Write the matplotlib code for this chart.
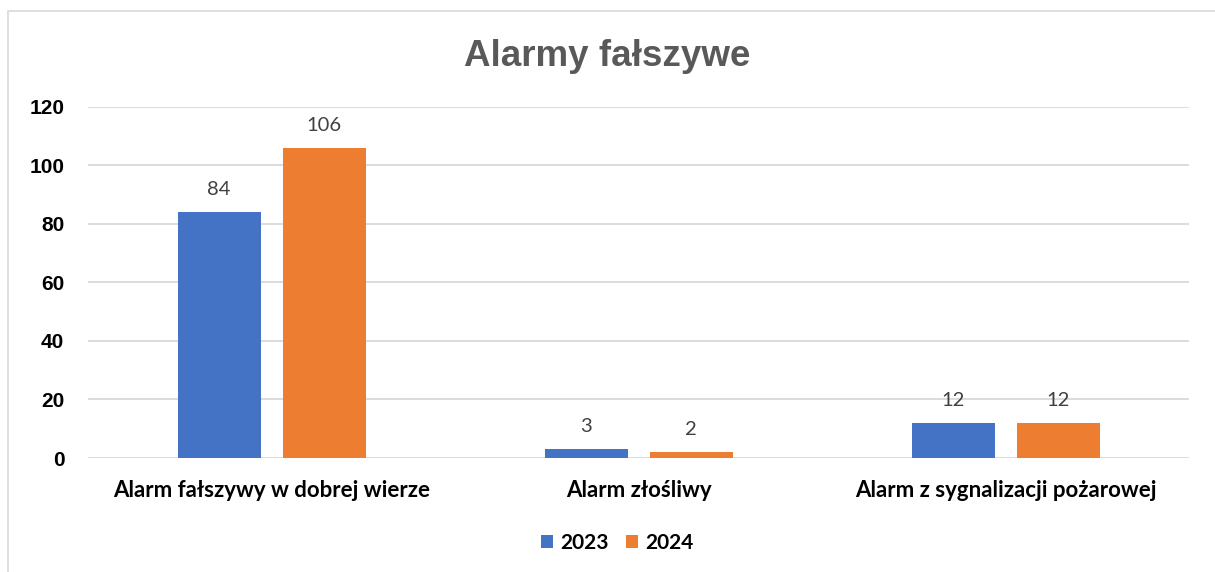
import matplotlib.pyplot as plt
import numpy as np
from matplotlib.patches import Rectangle

categories = ['Alarm fałszywy w dobrej wierze', 'Alarm złośliwy', 'Alarm z sygnalizacji pożarowej']
values_2023 = [84, 3, 12]
values_2024 = [106, 2, 12]
years = ['2023', '2024']
y_ticks = [0, 20, 40, 60, 80, 100, 120]

blue = '#4472C4'
orange = '#ED7D31'

fig = plt.figure(figsize=(12.15, 5.72), dpi=100)
ax = fig.add_axes([0.0724, 0.1993, 0.9066, 0.6137])

# chart border (Excel-style frame, runs off the right/bottom)
fig.patches.append(Rectangle((8 / 1215, -0.1), 1.2, 1 - 11 / 572 + 0.1,
                             transform=fig.transFigure, fill=False,
                             edgecolor='#D9D9D9', linewidth=1.2))

x = np.arange(len(categories))
w = 0.226
off = 0.143
b1 = ax.bar(x - off, values_2023, w, color=blue, label=years[0], zorder=3)
b2 = ax.bar(x + off, values_2024, w, color=orange, label=years[1], zorder=3)

for bars in (b1, b2):
    for rect in bars:
        h = rect.get_height()
        ax.annotate(f'{h:g}', (rect.get_x() + rect.get_width() / 2, h),
                    xytext=(0, 10), textcoords='offset points',
                    ha='center', va='bottom', fontsize=14.5,
                    family='Lato', color='#404040')

ax.set_xlim(-0.5, 2.5)
ax.set_ylim(0, 120)
ax.set_yticks(y_ticks)
ax.set_yticklabels([str(t) for t in y_ticks], fontsize=15, fontweight='bold',
                   family='Liberation Sans')
ax.set_xticks(x)
ax.set_xticklabels(categories, fontsize=16, fontweight='bold', family='Lato')
ax.tick_params(axis='y', length=0, pad=17)
ax.tick_params(axis='x', length=0, pad=16)
ax.grid(axis='y', color='#D9D9D9', linewidth=1.3, zorder=0)
for s in ax.spines.values():
    s.set_visible(False)

fig.text(0.5, 0.902, 'Alarmy fałszywe', ha='center', va='center',
         fontsize=26.5, fontweight='bold', family='Liberation Sans', color='#595959')

fig.legend(loc='center', bbox_to_anchor=(0.508, 1 - 543 / 572), ncol=2, frameon=False,
           prop={'family': 'Lato', 'weight': 'bold', 'size': 15},
           handlelength=0.6, handleheight=0.6, handletextpad=0.35, columnspacing=0.8)

fig.savefig('out.png', dpi=100)
